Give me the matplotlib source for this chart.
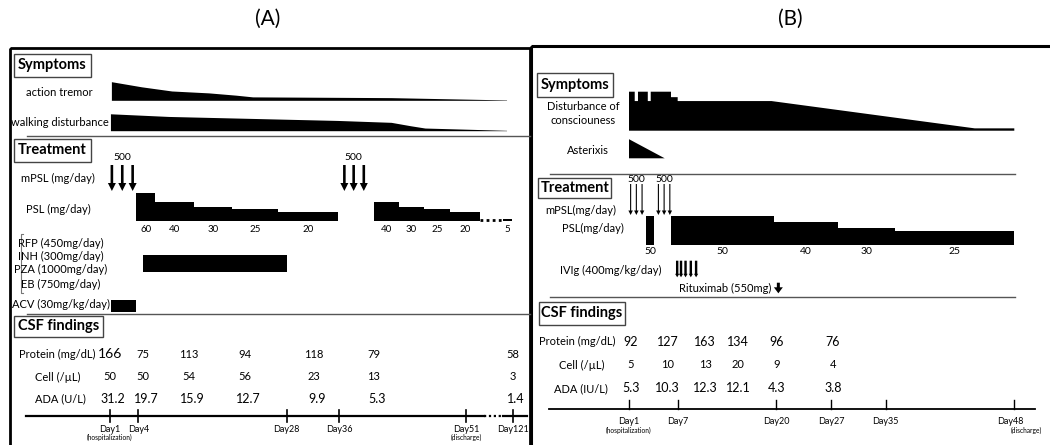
import numpy as np
import matplotlib.pyplot as plt
from matplotlib.patches import Rectangle, Polygon

plt.rcParams['font.family'] = ['Lato', 'DejaVu Sans']

# -------------------------------
# (A) data, days from hospitalization
# -------------------------------
a_days = [1, 4, 28, 36, 51, 121]
a_day_labels = ['Day1', 'Day4', 'Day28', 'Day36', 'Day51', 'Day121']

a_tremor_days = [1.2, 4.6, 9.5, 15.5, 19.9, 22.6, 42.2, 47.8, 112.5]
a_tremor_sev = [9.8, 7.1, 4.9, 3.9, 2.7, 1.8, 1.4, 0.9, 0.2]
a_walk_days = [1.1, 9.0, 35.8, 42.2, 44.5, 46.2, 112.5]
a_walk_sev = [8.9, 7.5, 5.4, 4.4, 2.6, 1.4, 0.2]

a_mpsl_days = [[1.2, 2.3, 3.4], [36.6, 37.7, 38.9]]
a_psl_edges = [[3.8, 6.7, 13.0, 19.2, 26.6, 35.8], [40.1, 43.1, 46.0, 49.1, 71.5], [107, 119.6]]
a_psl_dose = [[60, 40, 30, 25, 20], [40, 30, 25, 20], [5]]
a_psl_taper = [71.5, 107]
a_tb_days = [4.7, 28]
a_acv_days = [1.1, 3.8]
a_tb_labels = ['RFP (450mg/day)', 'INH (300mg/day)', 'PZA (1000mg/day)', 'EB (750mg/day)']

a_csf_days = [1, 4.8, 12.2, 21.3, 32.2, 40.1, 121]
a_protein = [166, 75, 113, 94, 118, 79, 58]
a_cell = [50, 50, 54, 56, 23, 13, 3]
a_ada = [31.2, 19.7, 15.9, 12.7, 9.9, 5.3, 1.4]

# -------------------------------
# (B) data
# -------------------------------
b_days = [1, 7, 20, 27, 35, 48]
b_day_labels = ['Day1', 'Day7', 'Day20', 'Day27', 'Day35', 'Day48']

b_doc_days = [1, 1, 1.7, 1.7, 2.1, 2.1, 3.3, 3.3, 3.66, 3.66, 6.14, 6.14, 6.96, 6.96, 19.4, 44.0, 48.0, 48.0]
b_doc_sev = [0, 10, 10, 7.6, 7.6, 10, 10, 7.6, 7.6, 10, 10, 8.6, 8.6, 7.6, 7.6, 0.6, 0.6, 0]
b_ast_days = [1, 1, 5.37]
b_ast_sev = [0, 4.9, 0]

b_mpsl_days = [[1.2, 1.9, 2.6], [4.6, 5.3, 6.0]]
b_psl_edges = [[3.1, 4.06], [6.14, 19.8, 28.0, 35.9, 48.1]]
b_psl_dose = [[50], [50, 40, 30, 25]]
b_ivig_days = [6.9, 7.4, 8.0, 8.7, 9.4]
b_rtx_day = 20.3

b_csf_days = [1.2, 5.7, 10.6, 15.0, 20.1, 27.3]
b_protein = [92, 127, 163, 134, 96, 76]
b_cell = [5, 10, 13, 20, 9, 4]
b_ada = [5.3, 10.3, 12.3, 12.1, 4.3, 3.8]

# -------------------------------
# layout: pixel positions of the day ticks
# -------------------------------
a_tick_x = [110, 138.3, 286.5, 339.3, 466, 512.7]
b_tick_x = [629, 678, 776, 831, 885.7, 1014.3]


def xa(d):
    return np.interp(d, a_days, a_tick_x)


def xb(d):
    return np.interp(d, b_days, b_tick_x)


fig = plt.figure(figsize=(10.5, 4.45), dpi=100)
ax = fig.add_axes([0, 0, 1, 1])
ax.set_xlim(0, 1050)
ax.set_ylim(445, 0)
ax.axis('off')

FS = 8


def txt(x, y, s, size=FS, ha='center', **kw):
    ax.text(x, y, s, fontsize=size, ha=ha, va='center', color='black', **kw)


def header(x, y, w, h, s):
    ax.add_patch(Rectangle((x, y), w, h, fill=False, ec='#444444', lw=1))
    txt(x + w / 2, y + h / 2, s, size=10.5, fontweight='bold')


def shape(xmap, days, sev, base, scale):
    xs = xmap(np.array(days))
    top = base - np.array(sev) * scale
    pts = [(xs[0], base)] + list(zip(xs, top)) + [(xs[-1], base)]
    ax.add_patch(Polygon(pts, closed=True, color='black', lw=0))


def steps(xmap, edges, doses, base, k, label_y, size=7):
    for e, dd in zip(edges, doses):
        xs = xmap(np.array(e))
        for i, dose in enumerate(dd):
            h = dose * k
            ax.add_patch(Rectangle((xs[i], base - h), xs[i + 1] - xs[i], h, color='black', lw=0))
            txt((xs[i] + xs[i + 1]) / 2, label_y, str(dose), size=size)


def down(xs, y0, y1, w, hw, hl):
    for x in xs:
        ax.arrow(x, y0, 0, y1 - y0, width=w, head_width=hw, head_length=hl,
                 length_includes_head=True, color='black', lw=0)


# titles and panel frames
txt(268, 19, '(A)', size=15)
txt(790, 19, '(B)', size=15)
ax.add_patch(Rectangle((10, 47.5), 520, 420, fill=False, ec='black', lw=2))
ax.add_patch(Rectangle((530.5, 46), 530, 420, fill=False, ec='black', lw=2.2))

# -------------------------------
# Panel A
# -------------------------------
header(13.5, 53.5, 77.5, 23.5, 'Symptoms')
txt(59, 92, 'action tremor')
shape(xa, a_tremor_days, a_tremor_sev, 100.8, 1.9)
txt(60, 123, 'walking disturbance')
shape(xa, a_walk_days, a_walk_sev, 131.2, 1.9)
ax.plot([27, 530], [135.5, 135.5], color='#555555', lw=1)

header(14, 139, 76.5, 23, 'Treatment')
txt(58, 178, 'mPSL (mg/day)')
for grp in a_mpsl_days:
    gx = xa(np.array(grp))
    down(gx, 165, 191, 2.6, 8, 8)
    txt(gx[1], 157.5, '500', size=7.5)
txt(58, 209, 'PSL (mg/day)')
steps(xa, a_psl_edges, a_psl_dose, 221, 0.47, 229.5)
tx = xa(np.array(a_psl_taper))
ax.plot(tx, [219.5, 219.5], color='black', lw=2, ls=(0, (1, 1.2)))

for lbl, yy in zip(a_tb_labels, [243, 256, 269.5, 284]):
    txt(61, yy, lbl)
ax.plot([23, 20.5, 20.5, 23], [234, 234, 293, 293], color='#777777', lw=0.8)
tbx = xa(np.array(a_tb_days))
ax.add_patch(Rectangle((tbx[0], 255), tbx[1] - tbx[0], 17, color='black', lw=0))
txt(61, 304, 'ACV (30mg/kg/day)')
acx = xa(np.array(a_acv_days))
ax.add_patch(Rectangle((acx[0], 299.5), acx[1] - acx[0], 12.5, color='black', lw=0))
ax.plot([27, 530], [313.5, 313.5], color='#555555', lw=1)

header(13.5, 315.5, 89.5, 21, 'CSF findings')
txt(57.5, 354, 'Protein (mg/dL)')
txt(57.7, 377, 'Cell (/µL)')
txt(60, 399, 'ADA (U/L)')
cx = xa(np.array(a_csf_days))
for i, x in enumerate(cx):
    txt(x, 354, str(a_protein[i]), size=10 if i == 0 else 8)
    txt(x, 377, str(a_cell[i]))
    txt(x + 3, 399, f'{a_ada[i]:.1f}', size=9)

ax_y = 416
ax.plot([26, 484], [ax_y, ax_y], color='black', lw=1.6)
ax.plot([484, 503], [ax_y, ax_y], color='black', lw=1.6, ls=(0, (1, 1.2)))
ax.plot([503, 527], [ax_y, ax_y], color='black', lw=1.6)
for x, lbl in zip(xa(np.array(a_days)), a_day_labels):
    ax.plot([x, x], [ax_y - 6, ax_y + 6], color='black', lw=1.2)
    txt(x, 429.5, lbl, size=6.5)
txt(xa(1), 437.5, '(hospitalization)', size=4.8)
txt(xa(51), 437.5, '(discharge)', size=4.8)

# -------------------------------
# Panel B
# -------------------------------
header(537.3, 73.3, 76, 23.4, 'Symptoms')
txt(583, 106, 'Disturbance of')
txt(583, 120, 'consciouness')
shape(xb, b_doc_days, b_doc_sev, 130.7, 3.9)
txt(588, 150, 'Asterixis')
shape(xb, b_ast_days, b_ast_sev, 158.3, 3.9)
ax.plot([550, 1015], [174, 174], color='#555555', lw=1)

header(538, 178.3, 73.3, 20, 'Treatment')
txt(581, 210.7, 'mPSL(mg/day)')
for grp in b_mpsl_days:
    gx = xb(np.array(grp))
    down(gx, 184, 215, 1.1, 4.5, 4.5)
    txt(gx[1], 180, '500', size=7.5)
txt(593, 228, 'PSL(mg/day)')
steps(xb, b_psl_edges, b_psl_dose, 245, 0.58, 251.5, size=7.5)

txt(611, 270, 'IVIg (400mg/kg/day)')
down(xb(np.array(b_ivig_days)), 260.7, 277.3, 2.4, 4.2, 3.5)
txt(771.3, 288.3, 'Rituximab (550mg)', ha='right')
down([xb(b_rtx_day)], 282.7, 293.3, 3, 9, 6)
ax.plot([550, 1015], [297.3, 297.3], color='#555555', lw=1)

header(538.7, 301.7, 86, 23.3, 'CSF findings')
txt(577, 341.7, 'Protein (mg/dL)')
txt(581.3, 365, 'Cell (/µL)')
txt(581.3, 388.3, 'ADA (IU/L)')
cx = xb(np.array(b_csf_days))
for i, x in enumerate(cx):
    txt(x, 341.7, str(b_protein[i]), size=9)
    txt(x, 365, str(b_cell[i]))
    txt(x, 388.3, f'{b_ada[i]:.1f}', size=9)

bx_y = 409.3
ax.plot([548.7, 1035], [bx_y, bx_y], color='black', lw=1.3)
for x, lbl in zip(xb(np.array(b_days)), b_day_labels):
    ax.plot([x, x], [bx_y - 9.3, bx_y], color='black', lw=1)
    txt(x - (4 if lbl == 'Day48' else 0), 421.5, lbl, size=6.5)
txt(xb(1), 430.5, '(hospitalization)', size=4.8)
txt(xb(48) + 12, 430.5, '(discharge)', size=4.8)

fig.savefig('out.png', dpi=100)
